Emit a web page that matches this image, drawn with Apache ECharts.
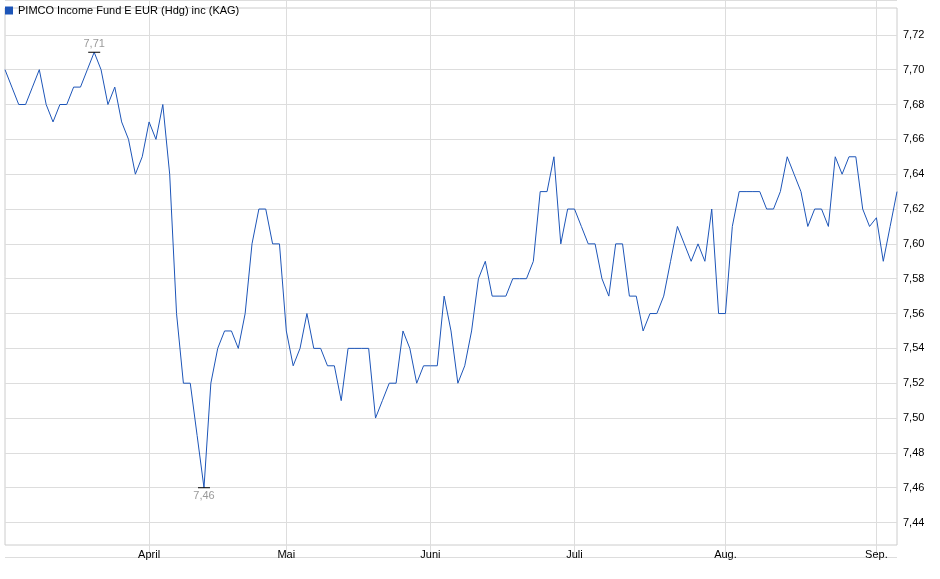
<!DOCTYPE html>
<html><head><meta charset="utf-8">
<script src="https://cdn.jsdelivr.net/npm/echarts@6/dist/echarts.min.js"></script>
<style>html,body{margin:0;padding:0;background:#fff}#c{width:940px;height:579px}</style>
</head><body><div id="c"></div>
<script>
const seriesName = 'PIMCO Income Fund E EUR (Hdg) inc (KAG)';
const values = [7.70,7.69,7.68,7.68,7.69,7.70,7.68,7.67,7.68,7.68,7.69,7.69,7.70,7.71,7.70,7.68,7.69,7.67,7.66,7.64,
7.65,7.67,7.66,7.68,7.64,7.56,7.52,7.52,7.49,7.46,7.52,7.54,7.55,7.55,7.54,7.56,7.60,7.62,7.62,7.60,
7.60,7.55,7.53,7.54,7.56,7.54,7.54,7.53,7.53,7.51,7.54,7.54,7.54,7.54,7.50,7.51,7.52,7.52,7.55,7.54,
7.52,7.53,7.53,7.53,7.57,7.55,7.52,7.53,7.55,7.58,7.59,7.57,7.57,7.57,7.58,7.58,7.58,7.59,7.63,7.63,
7.65,7.60,7.62,7.62,7.61,7.60,7.60,7.58,7.57,7.60,7.60,7.57,7.57,7.55,7.56,7.56,7.57,7.59,7.61,7.60,
7.59,7.60,7.59,7.62,7.56,7.56,7.61,7.63,7.63,7.63,7.63,7.62,7.62,7.63,7.65,7.64,7.63,7.61,7.62,7.62,
7.61,7.65,7.64,7.65,7.65,7.62,7.61,7.615,7.59,7.61,7.63];
const monthIndex = [21,41,62,83,105,127];
const monthLabels = ['April','Mai','Juni','Juli','Aug.','Sep.'];
const categories = values.map((v,i)=>{const k=monthIndex.indexOf(i);return k>=0?monthLabels[k]:String(i);});
const isMonth = (i)=>monthIndex.indexOf(i)>=0;
const fmt = v=>v.toFixed(2).replace('.',',');
const chart = echarts.init(document.getElementById('c'));
chart.setOption({
  animation:false,
  textStyle:{fontFamily:'Arial, Liberation Sans, sans-serif'},
  legend:{left:0,top:0,itemWidth:8,itemHeight:8,icon:'rect',itemGap:4,
    textStyle:{fontSize:11,color:'#000'},data:[seriesName]},
  grid:{left:5,right:43,top:-9.4,bottom:21.6},
  graphic:[{type:'rect',shape:{x:5,y:8,width:892,height:537},style:{fill:'none',stroke:'#ccc',lineWidth:1},silent:true}],
  xAxis:{type:'category',data:categories,boundaryGap:false,
    axisLine:{show:false},
    axisTick:{show:false},
    axisLabel:{interval:(i)=>isMonth(i),formatter:(v)=>isNaN(+v)?v:'',fontSize:11,color:'#000',margin:-8},
    splitLine:{show:true,interval:(i)=>isMonth(i),lineStyle:{color:'#ddd'}}},
  yAxis:{type:'value',position:'right',min:7.42,max:7.74,interval:0.02,
    axisLine:{show:false},axisTick:{show:false},
    axisLabel:{fontSize:11,color:'#000',margin:6,formatter:(v)=>(v<7.43||v>7.73)?'':fmt(v)},
    splitLine:{lineStyle:{color:'#ddd'}}},
  series:[{name:seriesName,type:'line',data:values,symbol:'none',
    itemStyle:{color:'#1d55b8'},lineStyle:{color:'#1d55b8',width:1},
    markPoint:{symbol:'rect',symbolSize:[12,1],itemStyle:{color:'#000'},
      data:[{type:'max',label:{show:true,position:'top',distance:2,color:'#999',fontSize:11,formatter:p=>fmt(p.value)}},
            {type:'min',label:{show:true,position:'bottom',distance:2,color:'#999',fontSize:11,formatter:p=>fmt(p.value)}}]}}]
});
</script></body></html>
